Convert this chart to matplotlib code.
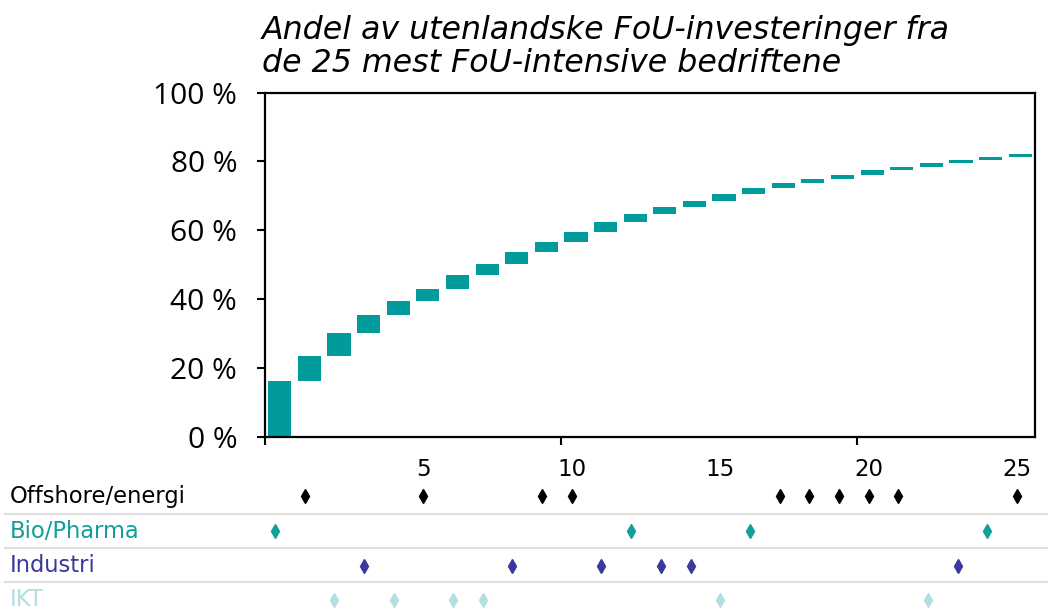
import matplotlib
matplotlib.use("Agg")
import matplotlib.pyplot as plt
from matplotlib.lines import Line2D
import numpy as np

# Cumulative share (%) after each company (ordered by FoU intensity)
cum_share = [16.3, 23.4, 30.2, 35.3, 39.6, 43.1, 46.9, 50.3, 53.8, 56.5,
             59.6, 62.4, 64.8, 66.7, 68.4, 70.4, 72.2, 73.7, 74.9, 76.1,
             77.4, 78.4, 79.4, 80.5, 81.4, 82.1]
y_ticks = [0, 20, 40, 60, 80, 100]
y_ticklabels = ["0 %", "20 %", "40 %", "60 %", "80 %", "100 %"]

# Sector membership (company index)
sectors = ["Offshore/energi", "Bio/Pharma", "Industri", "IKT"]
sector_colors = ["#000000", "#129E99", "#39399B", "#B3DEE2"]
offshore_idx = [1, 5, 9, 10, 17, 18, 19, 20, 21, 25]
bio_idx = [0, 12, 16, 24]
industri_idx = [3, 8, 11, 13, 14, 23]
ikt_idx = [2, 4, 6, 7, 15, 22]
sector_members = [offshore_idx, bio_idx, industri_idx, ikt_idx]
strip_numbers = [5, 10, 15, 20, 25]

title = "Andel av utenlandske FoU-investeringer fra\nde 25 mest FoU-intensive bedriftene"

W, H = 1048, 610
fig = plt.figure(figsize=(W / 100, H / 100), dpi=100)

ax = fig.add_axes([265 / W, 1 - 437 / H, 770 / W, (437 - 92.5) / H])
n = len(cum_share)
x = np.arange(n)
cum = np.array(cum_share)
bottoms = np.concatenate([[0], cum[:-1]])
ax.bar(x, cum - bottoms, bottom=bottoms, width=0.78, color="#009B9A", linewidth=0)
ax.set_xlim(-0.5, n - 0.5)
ax.set_ylim(0, 100)
ax.set_yticks(y_ticks)
ax.set_yticklabels(y_ticklabels, fontsize=21.5, family="Open Sans")
ax.set_xticks([-0.5, 9.5, 19.5])
ax.set_xticklabels([])
ax.tick_params(axis="both", direction="out", length=6, width=1.5, color="black")
ax.tick_params(axis="y", pad=14)
for s in ax.spines.values():
    s.set_linewidth(1.6)
    s.set_color("black")

fig.text(262 / W, 1 - 15 / H, title, ha="left", va="top", fontsize=22.8,
         style="italic", family="DejaVu Sans", linespacing=1.1)

# Sector strip
sax = fig.add_axes([260 / W, 0, 772 / W, (H - 450) / H])
sax.set_xlim(-0.5, n - 0.5)
sax.set_ylim(H, 450)
sax.axis("off")
row_y = [496, 531, 566, 600]
for name, col, members, ry in zip(sectors, sector_colors, sector_members, row_y):
    sax.plot(members, [ry] * len(members), linestyle="none", marker="d",
             markersize=7.5, color=col, clip_on=False)
    fig.text(10 / W, 1 - ry / H, name, ha="left", va="center", fontsize=16.3,
             color=col, family="DejaVu Sans")
for num in strip_numbers:
    sax.text(num, 469, str(num), ha="center", va="center", fontsize=16.5,
             family="DejaVu Sans", color="black")
for ly in [514, 548, 582]:
    fig.add_artist(Line2D([5 / W, 1], [1 - ly / H] * 2, color="#E0E0E0",
                          linewidth=1.5, transform=fig.transFigure))

fig.savefig("out.png", dpi=100)
